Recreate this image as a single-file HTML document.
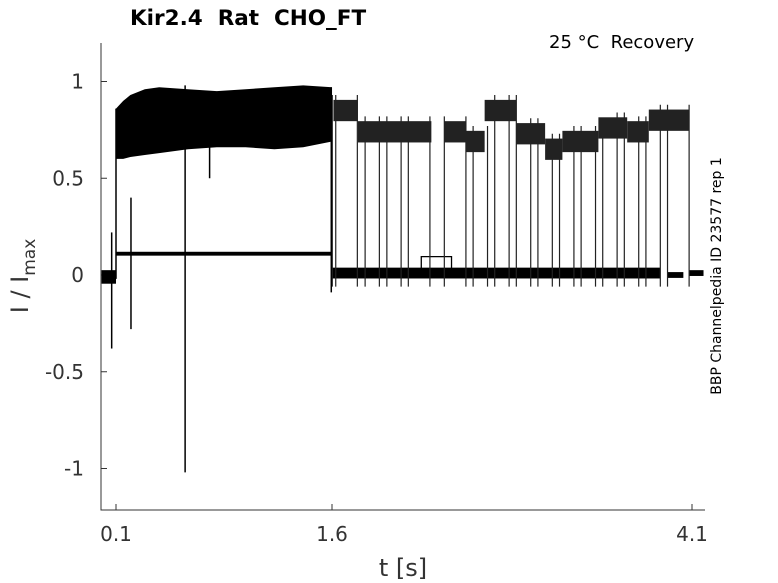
<!DOCTYPE html>
<html><head><meta charset="utf-8"><style>
html,body{margin:0;padding:0;background:#fff;}
svg{display:block;font-family:"DejaVu Sans","Liberation Sans",sans-serif;}
text{white-space:pre;}
</style></head><body>
<svg id="chart" width="778" height="583" viewBox="0 0 778 583">
<text x="130" y="25" font-size="21.5" font-weight="bold" fill="#000" xml:space="preserve">Kir2.4  Rat  CHO_FT</text>
<text x="549" y="48" font-size="18" fill="#000" xml:space="preserve">25 °C  Recovery</text>
<text transform="translate(721,276) rotate(-90)" text-anchor="middle" font-size="14" fill="#000">BBP Channelpedia ID 23577 rep 1</text>
<text transform="translate(28,276) rotate(-90)" text-anchor="middle" font-size="24" fill="#333">I / I<tspan font-size="17" dy="7">max</tspan></text>
<text x="403" y="576" text-anchor="middle" font-size="24" fill="#333">t [s]</text>
<g id="axes"></g>
<g id="marks"></g>
</svg>
<script>
// ---- data ----
const xTicks = [0.1, 1.6, 4.1];
const xTickLabels = ["0.1", "1.6", "4.1"];
const yTicks = [1, 0.5, 0, -0.5, -1];
const yTickLabels = ["1", "0.5", "0", "-0.5", "-1"];
// dense open-state band (0.1–1.6 s)
const bandTimes = [0.1,0.15,0.2,0.3,0.4,0.6,0.8,1.0,1.2,1.4,1.6];
const bandUpper = [0.86,0.9,0.93,0.96,0.97,0.96,0.95,0.96,0.97,0.98,0.97];
const bandLower = [0.6,0.6,0.61,0.62,0.63,0.65,0.66,0.66,0.65,0.66,0.69];
// later open-state segments: start, end, center level
const openStart = [1.61,1.78,2.38,2.53,2.66,2.88,3.08,3.20,3.45,3.65,3.80];
const openEnd   = [1.78,2.29,2.53,2.66,2.88,3.08,3.20,3.45,3.65,3.80,4.08];
const openLevel = [0.85,0.74,0.74,0.69,0.85,0.73,0.65,0.69,0.76,0.74,0.80];
// closed/baseline segments: start, end, level, half-width
const baseStart = [0.0,0.1,1.6,3.93,4.08];
const baseEnd   = [0.1,1.6,3.88,4.04,4.18];
const baseLevel = [-0.01,0.11,0.01,0.0,0.01];
const baseHalf  = [0.035,0.01,0.028,0.015,0.015];
// transition times
const transTimes = [1.602,1.626,1.776,1.83,1.929,1.981,2.08,2.13,2.28,2.38,2.53,2.58,2.68,2.73,2.83,2.88,2.98,3.03,3.13,3.18,3.28,3.33,3.43,3.48,3.58,3.63,3.73,3.78,3.88,3.93,4.08];
// spikes: time, top, bottom
const spikeTimes = [0.07,0.1,0.204,0.58,0.75,1.595];
const spikeTop   = [0.22,0.86,0.40,0.98,0.66,0.97];
const spikeBot   = [-0.38,-0.02,-0.28,-1.02,0.5,-0.09];
// sub-level step
const stepStart = [2.22], stepEnd = [2.43], stepLevel = [0.095];

// ---- scales ----
const X0 = 101.6, XS = 144, Y0 = 275, YS = 193.5;
const xs = t => X0 + t * XS;
const ys = v => Y0 - v * YS;
const NS = "http://www.w3.org/2000/svg";
const axes = document.getElementById('axes');
const marks = document.getElementById('marks');
function mk(tag, attrs, parent){
  const e = document.createElementNS(NS, tag);
  for (const k in attrs) e.setAttribute(k, attrs[k]);
  parent.appendChild(e); return e;
}
// axes
let e = mk('line',{x1:101,y1:43,x2:101,y2:510.5,stroke:'#333','stroke-width':1},axes);


e = mk('line',{x1:100.5,y1:510,x2:705,y2:510,stroke:'#333','stroke-width':1},axes);


yTicks.forEach((v,i)=>{
  const y = ys(v);
  const t = mk('line',{x1:101,y1:y,x2:107,y2:y,stroke:'#333'},axes);
  
  
  const l = mk('text',{x:84,y:y+7,'text-anchor':'end','font-size':20,fill:'#333'},axes);
  l.textContent = yTickLabels[i];
  
  
});
xTicks.forEach((v,i)=>{
  const x = xs(v);
  const t = mk('line',{x1:x,y1:510,x2:x,y2:504,stroke:'#333'},axes);
  
  
  const l = mk('text',{x:x,y:541,'text-anchor':'middle','font-size':20,fill:'#333'},axes);
  l.textContent = xTickLabels[i];
  
  
});
// dense band
let pts = bandTimes.map((t,i)=>xs(t)+','+ys(bandUpper[i]));
pts = pts.concat(bandTimes.map((t,i)=>xs(t)+','+ys(bandLower[i])).reverse());
e = mk('polygon',{points:pts.join(' '),fill:'#000'},marks);


// open segments
openStart.forEach((s,i)=>{
  const r = mk('rect',{x:xs(s),y:ys(openLevel[i]+0.055),width:xs(openEnd[i])-xs(s),height:0.11*YS,fill:'#222'},marks);
  
  
});
// baseline segments
baseStart.forEach((s,i)=>{
  const r = mk('rect',{x:xs(s),y:ys(baseLevel[i]+baseHalf[i]),width:xs(baseEnd[i])-xs(s),height:Math.max(2,2*baseHalf[i]*YS),fill:'#000'},marks);
  
  
});
// step
stepStart.forEach((s,i)=>{
  const l = mk('polyline',{points:[xs(s)+','+ys(0.02),xs(s)+','+ys(stepLevel[i]),xs(stepEnd[i])+','+ys(stepLevel[i]),xs(stepEnd[i])+','+ys(0.02)].join(' '),fill:'none',stroke:'#000','stroke-width':1.3},marks);
  
  
});
// transitions
function levelAt(t){
  for (let i=0;i<openStart.length;i++) if (t>=openStart[i]-0.03 && t<=openEnd[i]+0.03) return openLevel[i];
  return 0.8;
}
transTimes.forEach(t=>{
  const l = mk('line',{x1:xs(t),y1:ys(levelAt(t)+0.08),x2:xs(t),y2:ys(-0.06),stroke:'#222','stroke-width':1.2},marks);
  
  
});
// spikes
spikeTimes.forEach((t,i)=>{
  const l = mk('line',{x1:xs(t),y1:ys(spikeTop[i]),x2:xs(t),y2:ys(spikeBot[i]),stroke:'#000','stroke-width':1.5},marks);
  
  
});
</script>
</body></html>
